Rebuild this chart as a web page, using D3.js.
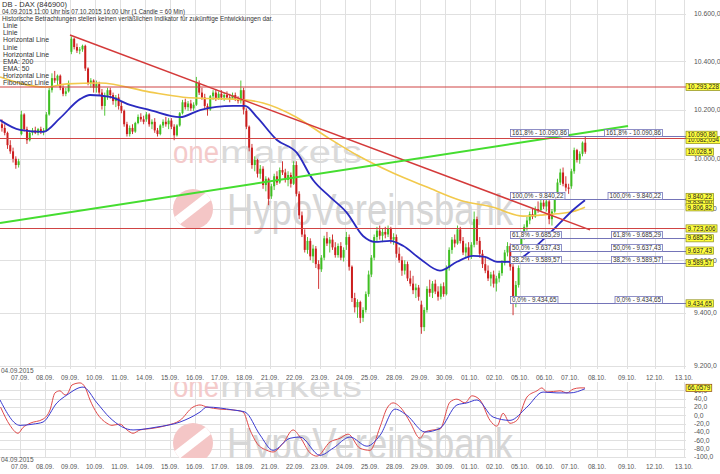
<!DOCTYPE html>
<html><head><meta charset="utf-8">
<script src="https://cdn.jsdelivr.net/npm/d3@7"></script>
<style>body{margin:0;background:#fff;} svg{display:block;font-family:"Liberation Sans",Arial,sans-serif;}</style>
</head><body><svg id="c" width="720" height="474"></svg>
<script>
// ---------- DATA ----------
const headerLines = ["DB - DAX (846900)",
  "04.09.2015 11:00 Uhr bis 07.10.2015 16:00 Uhr (1 Candle = 60 Min)",
  "Historische Betrachtungen stellen keinen verläßlichen Indikator für zukünftige Entwicklungen dar."];
const legendItems = ["Linie","Linie","Horizontal Line","Linie","Horizontal Line","EMA: 200","EMA: 50","Horizontal Line","Fibonacci Linie"];
const startLabel = "04.09.2015";
const dayLabels = ["07.09.","08.09.","09.09.","10.09.","11.09.","14.09.","15.09.","16.09.","17.09.","18.09.","21.09.","22.09.","23.09.","24.09.","25.09.","28.09.","29.09.","30.09.","01.10.","02.10.","05.10.","06.10.","07.10.","08.10.","09.10.","12.10.","13.10."];
const daySlots = [7,16,25,34,43,52,61,70,79,88,97,106,115,124,133,142,151,160,169,178,187,196,205,214.7,225.5,235.6,246];
const priceTicks = [9200,9400,9600,9800,10000,10200,10400,10600];
const oscTicks = [60,40,20,0,-20,-40,-60,-80,-100];

// hourly candles [open, high, low, close]
const ohlc = [
// 04.09
[10140,10160,10110,10125],[10125,10140,10095,10105],[10105,10110,10040,10055],[10055,10075,10020,10030],[10030,10045,9985,10000],[10000,10010,9960,9975],[9975,10000,9965,9990],
// 07.09
[10100,10195,10095,10180],[10180,10185,10110,10120],[10120,10130,10060,10075],[10075,10115,10070,10105],[10105,10125,10095,10115],[10115,10130,10100,10105],[10105,10125,10095,10120],[10120,10130,10100,10110],[10110,10125,10095,10115],
// 08.09
[10115,10190,10110,10180],[10180,10290,10175,10280],[10280,10350,10270,10330],[10330,10360,10310,10320],[10320,10345,10300,10340],[10340,10345,10280,10290],[10290,10300,10255,10265],[10265,10290,10255,10275],[10275,10320,10270,10310],
// 09.09
[10440,10505,10430,10495],[10495,10500,10450,10460],[10460,10475,10435,10445],[10445,10460,10430,10450],[10450,10470,10440,10465],[10465,10470,10360,10370],[10370,10375,10300,10310],[10310,10330,10290,10320],[10320,10325,10270,10290],
// 10.09
[10290,10320,10270,10305],[10305,10315,10260,10270],[10270,10285,10200,10215],[10215,10270,10175,10255],[10255,10290,10240,10280],[10280,10290,10245,10260],[10260,10270,10220,10235],[10235,10260,10210,10250],[10250,10265,10200,10215],
// 11.09
[10215,10235,10185,10195],[10195,10200,10130,10140],[10140,10150,10090,10100],[10100,10135,10090,10125],[10125,10140,10100,10110],[10110,10150,10105,10145],[10145,10180,10140,10170],[10170,10185,10150,10160],[10160,10175,10140,10150],
// 14.09
[10160,10190,10150,10180],[10180,10185,10130,10140],[10140,10160,10120,10150],[10150,10165,10105,10115],[10115,10125,10090,10100],[10100,10140,10095,10135],[10135,10160,10125,10150],[10150,10170,10130,10140],[10140,10165,10120,10155],
// 15.09
[10155,10165,10120,10130],[10130,10140,10075,10095],[10095,10140,10090,10135],[10135,10190,10130,10185],[10185,10240,10180,10230],[10230,10245,10200,10210],[10210,10235,10195,10225],[10225,10240,10195,10205],[10205,10230,10195,10220],
// 16.09
[10220,10335,10215,10310],[10310,10320,10260,10270],[10270,10290,10240,10250],[10250,10265,10205,10215],[10215,10225,10175,10200],[10200,10260,10195,10255],[10255,10280,10240,10270],[10270,10285,10235,10245],[10245,10275,10240,10265],
// 17.09
[10265,10280,10240,10250],[10250,10270,10235,10260],[10260,10275,10245,10250],[10250,10265,10230,10245],[10245,10270,10240,10260],[10260,10270,10235,10240],[10240,10255,10225,10235],[10235,10320,10225,10280],[10280,10290,10180,10200],
// 18.09
[10195,10205,10120,10130],[10130,10135,10030,10045],[10045,10060,9960,9975],[9975,10010,9950,9995],[9995,10000,9925,9940],[9940,9975,9920,9960],[9960,9970,9880,9895],[9895,9930,9870,9920],[9920,9925,9815,9840],
// 21.09
[9850,9900,9840,9890],[9890,9940,9875,9930],[9930,9950,9895,9905],[9905,9965,9900,9955],[9955,9990,9935,9945],[9945,9960,9905,9915],[9915,9950,9890,9935],[9935,9945,9885,9900],[9900,9990,9895,9975],
// 22.09
[9975,9990,9850,9860],[9860,9870,9760,9775],[9775,9790,9690,9700],[9700,9720,9630,9640],[9640,9690,9625,9675],[9675,9685,9600,9615],[9615,9660,9590,9645],[9645,9655,9570,9585],[9585,9600,9490,9565],
// 23.09
[9565,9620,9555,9610],[9610,9695,9600,9685],[9685,9710,9655,9665],[9665,9690,9630,9680],[9680,9700,9640,9650],[9650,9670,9610,9620],[9620,9665,9610,9655],[9655,9670,9600,9610],[9610,9650,9595,9640],
// 24.09
[9660,9710,9640,9690],[9690,9700,9560,9575],[9575,9580,9440,9455],[9455,9475,9400,9420],[9420,9450,9380,9440],[9440,9445,9360,9380],[9380,9420,9365,9410],[9410,9480,9400,9470],[9470,9560,9460,9545],
// 25.09
[9545,9620,9535,9610],[9610,9700,9600,9690],[9690,9730,9670,9715],[9715,9735,9680,9695],[9695,9725,9670,9710],[9710,9730,9685,9700],[9700,9735,9690,9725],[9725,9730,9665,9680],[9680,9705,9660,9690],
// 28.09
[9690,9700,9610,9625],[9625,9650,9590,9600],[9600,9615,9540,9560],[9560,9600,9545,9585],[9585,9595,9520,9530],[9530,9560,9500,9510],[9510,9540,9470,9485],[9485,9510,9455,9495],[9495,9505,9445,9460],
// 29.09
[9430,9445,9320,9345],[9345,9420,9330,9410],[9410,9500,9400,9490],[9490,9525,9460,9475],[9475,9520,9455,9510],[9510,9525,9470,9480],[9480,9500,9445,9460],[9460,9510,9450,9500],[9500,9515,9460,9470],
// 30.09
[9470,9580,9465,9570],[9570,9650,9560,9640],[9640,9690,9625,9680],[9680,9700,9650,9665],[9665,9735,9660,9720],[9720,9730,9665,9675],[9675,9690,9620,9630],[9630,9665,9610,9650],[9650,9670,9600,9615],
// 01.10
[9615,9670,9605,9660],[9660,9790,9650,9760],[9760,9770,9660,9675],[9675,9690,9610,9625],[9625,9640,9570,9585],[9585,9610,9550,9560],[9560,9580,9520,9530],[9530,9555,9500,9545],[9545,9560,9495,9510],
// 02.10
[9510,9540,9480,9530],[9530,9560,9515,9550],[9550,9600,9540,9590],[9590,9640,9580,9630],[9630,9670,9615,9655],[9655,9665,9560,9575],[9575,9585,9390,9435],[9435,9520,9420,9505],[9505,9580,9495,9570],
// 05.10
[9640,9700,9630,9690],[9690,9740,9680,9730],[9730,9770,9715,9755],[9755,9790,9740,9780],[9780,9800,9760,9770],[9770,9810,9765,9800],[9800,9830,9785,9795],[9795,9840,9790,9825],[9825,9845,9800,9810],
// 06.10
[9810,9845,9790,9830],[9830,9840,9740,9760],[9760,9800,9735,9790],[9790,9860,9785,9850],[9850,9920,9840,9905],[9905,9960,9895,9945],[9945,9965,9890,9900],[9900,9930,9870,9885],[9885,9900,9860,9880],
// 07.10
[9890,9960,9880,9950],[9950,10045,9940,10035],[10035,10040,9985,9995],[9995,10030,9980,10020],[10020,10070,10010,10065],[10065,10091,10020,10028.5]
];

const ema200Pos = [-0.2,16,23.9,35.8,53.8,65.7,88.7,94.5,106,117.5,129.4,141.3,153.5,165.4,177.3,188.1,194.2,200.3,206.1,210.4];
const ema200Val = [10335,10293,10306,10310,10272,10251,10239,10227,10172,10088,10008,9943,9887,9835,9807,9772,9776,9781,9790,9806.82];
const ema50Pos = [-0.2,7,15.3,21.4,28.6,32.2,39.4,46.6,53.8,64.6,71.8,83.7,88,92.3,99.5,106.7,112.5,118.6,124.7,130.5,134.8,140.2,144.9,151,158.2,164.3,170.1,174.4,178.7,183.4,187,191.7,196.7,201.4,206.1,210.4];
const ema50Val = [10157,10117,10109,10165,10243,10260,10252,10219,10198,10169,10198,10215,10215,10169,10076,10024,9915,9848,9785,9694,9671,9675,9656,9606,9560,9594,9617,9613,9594,9594,9606,9644,9694,9745,9796,9834.6];

const redTrendPos = [25, 212.2], redTrendVal = [10511, 9718];
const greenTrendPos = [-0.2, 225.9], greenTrendVal = [9745, 10133];
const hLineVals = [10293.228, 10082.054, 9723.606];
const fibPct = ["161,8%","100,0%","61,8%","50,0%","38,2%","0,0%"];
const fibVals = [10090.86, 9840.22, 9685.29, 9637.43, 9589.57, 9434.65];
const fibStartPos = 183.4;
const lastClose = 10028.5;

const oscFastPos = [0,3.4,6.3,8.1,10.6,15.3,17.8,19.6,21.4,23.2,24.3,25.7,28.6,30.4,32.2,34.7,38.3,40.1,43,45.5,47.7,50.2,54.9,59.9,64.6,69.3,71.8,74.3,79,83.7,87.3,89.8,92.3,95.9,98.1,101.7,105.3,107.8,111.4,113.9,118.6,122.2,125.1,129.4,133,136.6,139.1,141.3,144.5,147.4,151,152.8,155.7,158.2,161.8,164.3,167.2,169.7,172.6,176.2,178.7,180.9,183.4,185.9,189.5,193.1,194.9,196.7,201.4,203.9,206.1,208.6,210.4];
const oscFastVal = [20,-24,-43,-29,-19,-9,13,54,59,49,54,73,78,68,37,5,-19,-24,-21,-35,-43,-35,-31,-24,-12,20,25,20,15,13,8,-35,-67,-84,-88,-67,-35,-52,-90,-98,-64,-55,-45,-79,-84,-28,17,30,15,-16,-55,-40,-35,-33,32,39,30,47,37,-12,-26,5,-19,-12,44,59,66,56,59,54,63,66,66.0579];
const oscSlowPos = [-0.2,7,11.7,15.3,20.3,23.9,29.7,34.7,39.4,47.7,56.3,64.6,71.8,74.3,83.7,88,93.4,98.1,104.2,107.8,115,119.7,125.8,131.9,136.6,142,146.3,152.8,158.2,164.3,167.9,171.5,177.3,183.4,189.5,195.3,200.3,205,210.4];
const oscSlowVal = [37,-24,-21,-16,30,49,68,30,-6,-35,-28,-16,8,20,13,8,-47,-84,-55,-52,-96,-79,-52,-74,-48,15,0,-40,-31,25,30,37,-4,-12,20,56,54,54,64];
const oscLast = 66.0579;

// ---------- LAYOUT ----------
const svg = d3.select("#c");
const PR = 686;
const xs = d3.scaleLinear().domain([7, 205]).range([20, 570]);
const y = d3.scaleLog().domain([9200, 10600]).range([366, 14]);
const ys = d3.scaleLinear().domain([-100, 60]).range([457, 390.4]);
const mainBottom = 369, oscTop = 382, oscBottom = 458;
const loc = d3.formatLocale({decimal:",", thousands:".", grouping:[3], currency:["","€"], minus:"-"});
const f1 = loc.format(",.1f"), f2 = loc.format(",.2f"), f3 = loc.format(",.3f"), f4 = loc.format(",.4f");
const GRID = "#e0e0e0", AX = "#555";

const defs = svg.append("defs");
defs.append("clipPath").attr("id","mainClip").append("rect").attr("x",0).attr("y",0).attr("width",PR).attr("height",mainBottom);
defs.append("clipPath").attr("id","oscClip").append("rect").attr("x",0).attr("y",oscTop).attr("width",PR).attr("height",oscBottom-oscTop);
defs.append("clipPath").attr("id","logoClip").append("circle").attr("cx",193).attr("cy",209).attr("r",20);

// grid
const grid = svg.append("g");
grid.selectAll("line.hg").data(priceTicks).join("line")
  .attr("x1",0).attr("x2",PR).attr("y1",d=>Math.round(y(d))+0.5).attr("y2",d=>Math.round(y(d))+0.5)
  .attr("stroke",GRID);
grid.selectAll("line.vg").data(daySlots).join("line")
  .attr("x1",d=>Math.round(xs(d))+0.5).attr("x2",d=>Math.round(xs(d))+0.5).attr("y1",0).attr("y2",mainBottom)
  .attr("stroke",GRID);
grid.selectAll("line.og").data(oscTicks).join("line")
  .attr("x1",0).attr("x2",PR).attr("y1",d=>Math.round(ys(d))+0.5).attr("y2",d=>Math.round(ys(d))+0.5)
  .attr("stroke",GRID);
grid.selectAll("line.ovg").data(daySlots).join("line")
  .attr("x1",d=>Math.round(xs(d))+0.5).attr("x2",d=>Math.round(xs(d))+0.5).attr("y1",oscTop).attr("y2",oscBottom)
  .attr("stroke",GRID);

// watermark
function watermark(g){
  g.append("text").attr("x",173).attr("y",163).attr("font-size",31).attr("fill","#f4caca")
    .attr("textLength",46).attr("lengthAdjust","spacingAndGlyphs").text("one");
  g.append("text").attr("x",220).attr("y",163).attr("font-size",31).attr("fill","#dadada")
    .attr("textLength",142).attr("lengthAdjust","spacingAndGlyphs").text("markets");
  const lg = g.append("g");
  lg.append("circle").attr("cx",193).attr("cy",209).attr("r",20).attr("fill","#f4c6c6");
  lg.append("rect").attr("x",168).attr("y",204).attr("width",50).attr("height",9).attr("fill","#fff")
    .attr("clip-path","url(#logoClip)").attr("transform","rotate(-38,193,209)");
  g.append("text").attr("x",227).attr("y",225).attr("font-size",44).attr("fill","#d6d6d6")
    .attr("textLength",286).attr("lengthAdjust","spacingAndGlyphs").text("HypoVereinsbank");
}
watermark(svg.append("g"));
watermark(svg.append("g").attr("clip-path","url(#oscClip)").append("g").attr("transform","translate(0,234)"));

// candles
const GREEN = "#3fbf22", RED = "#cc1e1e";
const cg = svg.append("g").attr("clip-path","url(#mainClip)");
cg.selectAll("line.wick").data(ohlc).join("line")
  .attr("x1",(d,i)=>xs(i+0.5)).attr("x2",(d,i)=>xs(i+0.5))
  .attr("y1",d=>y(d[1])).attr("y2",d=>y(d[2]))
  .attr("stroke",d=>d[3]>=d[0]?GREEN:RED).attr("stroke-width",0.9);
cg.selectAll("rect.body").data(ohlc).join("rect")
  .attr("x",(d,i)=>xs(i+0.5)-1).attr("width",2)
  .attr("y",d=>y(Math.max(d[0],d[3])))
  .attr("height",d=>Math.max(1,Math.abs(y(d[0])-y(d[3]))))
  .attr("fill",d=>d[3]>=d[0]?GREEN:RED);

// EMA lines
const lineP = d3.line().x(d=>xs(d[0])).y(d=>y(d[1])).curve(d3.curveMonotoneX);
cg.append("path").datum(d3.zip(ema200Pos, ema200Val)).attr("d",lineP)
  .attr("fill","none").attr("stroke","#f2c94c").attr("stroke-width",1.6);
cg.append("path").datum(d3.zip(ema50Pos, ema50Val)).attr("d",lineP)
  .attr("fill","none").attr("stroke","#2a2ac0").attr("stroke-width",1.8);

// trend lines
const lineS = d3.line().x(d=>xs(d[0])).y(d=>y(d[1]));
cg.append("path").datum(d3.zip(redTrendPos, redTrendVal)).attr("d",lineS)
  .attr("fill","none").attr("stroke","#d43a3a").attr("stroke-width",1.5);
cg.append("path").datum(d3.zip(greenTrendPos, greenTrendVal)).attr("d",lineS)
  .attr("fill","none").attr("stroke","#45dd30").attr("stroke-width",2);

// horizontal lines
cg.selectAll("line.hl").data(hLineVals).join("line")
  .attr("x1",0).attr("x2",PR).attr("y1",d=>y(d)).attr("y2",d=>y(d))
  .attr("stroke","#d04444").attr("stroke-width",1.1);

// fibonacci
const fibs = d3.zip(fibPct, fibVals);
const fg = svg.append("g");
fg.selectAll("line.fl").data(fibs).join("line")
  .attr("x1",xs(fibStartPos)).attr("x2",PR).attr("y1",d=>Math.round(y(d[1]))+0.5).attr("y2",d=>Math.round(y(d[1]))+0.5)
  .attr("stroke","#7474b8").attr("stroke-width",1);
function fibLabel(d, anchorX, alignRight){
  const g = fg.append("g");
  const t = g.append("text").attr("font-size",6.3).attr("fill","#333").text(d[0]+" - "+f2(d[1]));
  const w = t.node().getComputedTextLength();
  const x0 = alignRight ? anchorX - w - 3 : anchorX;
  const yb = Math.round(y(d[1]));
  g.insert("rect","text").attr("x",x0+0.5).attr("y",yb-6.5).attr("width",w+3).attr("height",7)
    .attr("fill","#fff").attr("stroke","#7474b8").attr("stroke-width",0.8);
  t.attr("x",x0+2).attr("y",yb-1);
}
fibs.forEach(d=>{ fibLabel(d, xs(fibStartPos), false); fibLabel(d, 662, true); });

// header text
const ht = svg.append("g").attr("fill","#333");
const headerWidths = [65,183,271];
headerLines.forEach((s,i)=>{
  ht.append("text").attr("x",2).attr("y",6.7+i*7.15).attr("font-size",7)
    .attr("textLength",headerWidths[i]).attr("lengthAdjust","spacingAndGlyphs").text(s);
});
legendItems.forEach((s,i)=>{
  ht.append("text").attr("x",3).attr("y",6.7+(i+3)*7.15).attr("font-size",6.9).text(s);
});

// right axis labels
const ax = svg.append("g").attr("fill",AX).attr("font-size",6.8);
ax.selectAll("text.pt").data(priceTicks).join("text")
  .attr("x",694).attr("y",d=>y(d)).attr("dy","0.35em").text(d=>f1(d));
ax.selectAll("text.ot").data(oscTicks).join("text")
  .attr("x",694).attr("y",d=>ys(d)).attr("dy","0.35em").text(d=>f1(d));

// x axis labels
const xl = svg.append("g").attr("fill",AX).attr("font-size",6.5);
[[371,378],[460,467]].forEach(([r1,r2])=>{
  xl.append("text").attr("x",1).attr("y",r1).attr("dy","0.35em").text(startLabel);
  xl.selectAll(null).data(d3.zip(dayLabels, daySlots)).join("text")
    .attr("x",d=>xs(d[1])).attr("y",r2).attr("dy","0.35em").attr("text-anchor","middle").text(d=>d[0]);
});

// oscillator lines
const og = svg.append("g").attr("clip-path","url(#oscClip)");
const lineO = d3.line().x(d=>xs(d[0])).y(d=>ys(d[1])).curve(d3.curveMonotoneX);
og.append("path").datum(d3.zip(oscFastPos, oscFastVal)).attr("d",lineO)
  .attr("fill","none").attr("stroke","#e04a4a").attr("stroke-width",1);
og.append("path").datum(d3.zip(oscSlowPos, oscSlowVal)).attr("d",lineO)
  .attr("fill","none").attr("stroke","#3a3ad0").attr("stroke-width",1);

// value tags
const tags = [
  {v: ema50Val[ema50Val.length-1], t: f2(ema50Val[ema50Val.length-1])},
  {v: ema200Val[ema200Val.length-1], t: f2(ema200Val[ema200Val.length-1])},
  {v: lastClose, t: f1(lastClose)},
  ...hLineVals.map(v=>({v, t: f3(v)})),
  ...fibVals.map(v=>({v, t: f2(v)}))
];
tags.forEach(d=>d.y=y(d.v));
const srt = tags.slice().sort((a,b)=>a.y-b.y);
for(let k=0;k<40;k++){
  for(let j=1;j<srt.length;j++){
    const a=srt[j-1], b=srt[j], gap=b.y-a.y;
    if(gap<5.2){ const m=(5.2-gap)/2; a.y-=m; b.y+=m; }
  }
}
const tg = svg.append("g");
function tag(ty, txt, stroke){
  const g = tg.append("g");
  const t = g.append("text").attr("font-size",6.3).attr("fill","#222").text(txt);
  const w = t.node().getComputedTextLength();
  g.insert("rect","text").attr("x",686).attr("y",ty-3.6).attr("width",w+3).attr("height",7.2)
    .attr("fill","#ffff3c").attr("stroke",stroke).attr("stroke-width",0.7);
  t.attr("x",687.5).attr("y",ty).attr("dy","0.35em");
}
tags.forEach(d=>tag(d.y, d.t, "#8a8a20"));
tag(ys(oscLast), f4(oscLast), "#8b4513");
</script></body></html>
